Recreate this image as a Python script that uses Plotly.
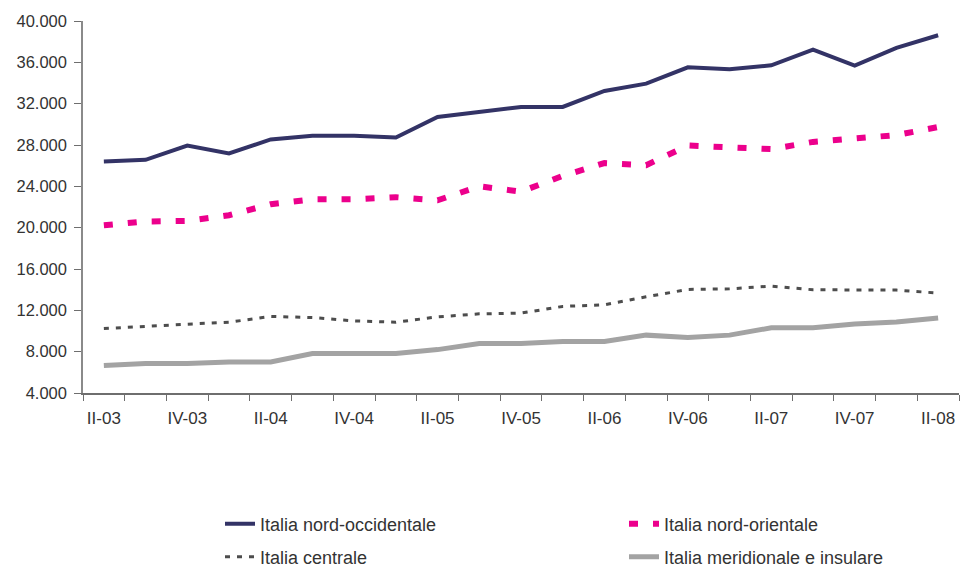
import plotly.graph_objects as go

quarters = ["II-03", "III-03", "IV-03", "I-04", "II-04", "III-04", "IV-04", "I-05",
            "II-05", "III-05", "IV-05", "I-06", "II-06", "III-06", "IV-06", "I-07",
            "II-07", "III-07", "IV-07", "I-08", "II-08"]
tick_labels = ["II-03", "", "IV-03", "", "II-04", "", "IV-04", "", "II-05", "", "IV-05", "",
               "II-06", "", "IV-06", "", "II-07", "", "IV-07", "", "II-08"]

nord_occidentale = [26400, 26570, 27950, 27180, 28540, 28890, 28890, 28730, 30710, 31220,
                    31680, 31680, 33230, 33940, 35520, 35330, 35710, 37240, 35680, 37400, 38620]
nord_orientale = [20230, 20600, 20650, 21200, 22270, 22750, 22750, 22950, 22650, 24000,
                  23490, 25010, 26250, 26050, 27950, 27800, 27600, 28300, 28700, 28960, 29740]
centrale = [10240, 10470, 10660, 10850, 11410, 11300, 10980, 10850, 11370, 11660,
            11730, 12380, 12540, 13310, 14020, 14080, 14340, 13990, 13960, 13960, 13670]
meridionale = [6650, 6850, 6850, 7010, 7010, 7820, 7820, 7820, 8200, 8790,
               8790, 8980, 8980, 9600, 9370, 9600, 10310, 10310, 10670, 10860, 11250]

# the page body has an 8px margin, so the figure is sized to fit the 971x569 window
W, H = 963, 561
fig = go.Figure()
fig.add_trace(go.Scatter(x=quarters, y=nord_occidentale, mode="lines",
                         name="Italia nord-occidentale", legend="legend",
                         line=dict(color="#333366", width=4)))
fig.add_trace(go.Scatter(x=quarters, y=nord_orientale, mode="lines",
                         name="Italia nord-orientale", legend="legend2",
                         line=dict(color="#EC008C", width=6, dash="9px,15px")))
fig.add_trace(go.Scatter(x=quarters, y=centrale, mode="lines",
                         name="Italia centrale", legend="legend3",
                         line=dict(color="#4d4d4d", width=3, dash="5px,7px")))
fig.add_trace(go.Scatter(x=quarters, y=meridionale, mode="lines",
                         name="Italia meridionale e insulare", legend="legend4",
                         line=dict(color="#a3a3a3", width=5)))

font_family = "Liberation Sans, Arial, sans-serif"


def legend_at(x_px, y_px):
    return dict(orientation="h", xref="container", yref="container",
                x=x_px / W, y=1 - y_px / H, xanchor="left", yanchor="middle",
                font=dict(family=font_family, size=18, color="#333333"),
                bgcolor="rgba(0,0,0,0)", itemclick=False, itemdoubleclick=False)


fig.update_layout(
    width=W, height=H,
    margin=dict(l=75, r=12, t=13, b=176, autoexpand=False),
    paper_bgcolor="white", plot_bgcolor="white",
    separators=",.",
    font=dict(family=font_family, size=16, color="#333333"),
    showlegend=True,
    legend=legend_at(212, 516),
    legend2=legend_at(616, 516),
    legend3=legend_at(212, 549),
    legend4=legend_at(616, 549),
    xaxis=dict(type="category", tickmode="array", tickvals=quarters, ticktext=tick_labels,
               range=[-0.5, len(quarters) - 0.5],
               tickson="boundaries", ticks="outside", ticklen=6, tickcolor="#6e6e6e",
               showline=True, linecolor="#6e6e6e", linewidth=1.5, showgrid=False,
               zeroline=False, tickangle=0, ticklabelstandoff=9,
               tickfont=dict(family=font_family, size=17, color="#333333")),
    xaxis2=dict(overlaying="x", anchor="y", side="bottom",
                range=[-0.5, len(quarters) - 0.5], tick0=-0.5, dtick=1,
                ticks="inside", ticklen=6, tickcolor="#6e6e6e",
                showticklabels=False, showline=False, showgrid=False, zeroline=False),
    yaxis=dict(range=[4000, 40000], dtick=4000, tick0=4000, tickformat=",d",
               ticks="outside", ticklen=7, tickcolor="#6e6e6e",
               showline=True, linecolor="#8a8a8a", linewidth=1.5, showgrid=False,
               zeroline=False, ticklabelstandoff=4,
               tickfont=dict(family=font_family, size=16.5, color="#333333")),
)

fig.write_html("out.html")
